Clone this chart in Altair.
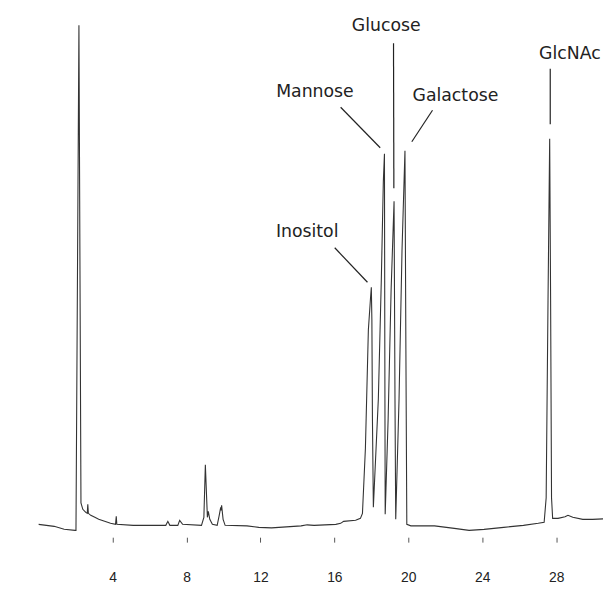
import altair as alt
import pandas as pd

# Chromatogram trace: retention time (min) and detector signal (% of full scale)
time_min = [0.00, 0.84, 1.38, 1.97, 2.02, 2.18, 2.29, 2.39, 2.55, 2.63, 2.66, 2.69,
            2.82, 3.04, 3.25, 3.57, 3.89, 4.16, 4.20, 4.23, 5.12, 6.88, 6.99, 7.10,
            7.53, 7.63, 7.79, 8.81, 8.94, 9.02, 9.13, 9.18, 9.26, 9.40, 9.66, 9.77,
            9.85, 9.87, 9.90, 9.98, 10.09, 11.27, 11.91, 12.60, 13.40, 14.20, 14.53,
            14.90, 16.08, 16.34, 16.50, 17.15, 17.41, 17.52, 17.68, 17.84, 17.95,
            18.00, 18.03, 18.06, 18.11, 18.38, 18.54, 18.65, 18.71, 18.73, 18.75,
            18.91, 19.07, 19.23, 19.28, 19.32, 19.50, 19.66, 19.82, 19.87, 19.92,
            20.14, 21.42, 22.49, 23.29, 24.10, 25.16, 26.23, 27.03, 27.35, 27.46,
            27.56, 27.65, 27.70, 27.75, 27.81, 28.10, 28.48, 28.64, 28.90, 29.44,
            29.97, 30.56]
signal = [0.2, -0.2, -0.8, -1.0, -1.0, 100.0, 4.5, 3.2, 2.6, 2.4, 4.2, 2.4,
          2.0, 1.6, 1.2, 0.8, 0.4, 0.2, 1.8, 0.2, 0.0, 0.0, 0.8, 0.0,
          0.0, 1.0, 0.2, 0.0, 1.6, 12.1, 1.6, 2.8, 1.2, 0.2, 0.0, 2.0,
          3.6, 3.0, 4.0, 1.2, 0.0, -0.1, -0.4, -0.5, -0.3, -0.1, 0.1,
          0.0, 0.2, 0.4, 0.8, 1.0, 1.4, 2.4, 15.4, 39.1, 45.1,
          47.6, 41.1, 21.3, 3.6, 25.3, 49.0, 68.8, 74.3, 35.2, 2.2,
          21.3, 47.0, 64.8, 25.3, 1.2, 25.3, 54.9, 74.9, 35.2, 0.2,
          -0.1, -0.1, -0.6, -1.0, -0.8, -0.4, 0.0, 0.4, 0.6, 5.5,
          45.0, 77.3, 45.0, 5.5, 1.4, 1.4, 1.7, 2.0, 1.6, 1.2,
          1.2, 1.3]

# Peak labels
label_text = ["Glucose", "Mannose", "Galactose", "Inositol", "GlcNAc"]
label_t = [18.81, 14.95, 22.55, 14.53, 28.74]
label_s = [99.8, 86.6, 85.8, 58.7, 94.3]

# Pointer lines from labels to peaks
ptr_t1 = [19.20, 16.34, 21.31, 16.02, 27.68]
ptr_s1 = [96.4, 83.6, 83.0, 55.5, 91.3]
ptr_t2 = [19.22, 18.48, 20.19, 17.79, 27.68]
ptr_s2 = [67.4, 75.5, 76.7, 48.6, 80.2]

tick_values = [4, 8, 12, 16, 20, 24, 28]

trace = pd.DataFrame({"t": time_min, "s": signal, "i": range(len(time_min))})
labels = pd.DataFrame({"t": label_t, "s": label_s, "label": label_text})
pointers = pd.DataFrame({"t": ptr_t1, "s": ptr_s1, "t2": ptr_t2, "s2": ptr_s2})

xscale = alt.Scale(domain=[0, 30], nice=False, zero=False)
yscale = alt.Scale(domain=[0, 100], nice=False, zero=False)

line = alt.Chart(trace).mark_line(color="#333333", strokeWidth=1.1).encode(
    x=alt.X("t:Q", scale=xscale,
            axis=alt.Axis(values=tick_values, title=None, domain=False, grid=False,
                          tickSize=5, tickColor="#555555", tickWidth=1, offset=12,
                          labelPadding=29, labelFontSize=14, labelColor="#222222",
                          labelFont="Liberation Sans")),
    y=alt.Y("s:Q", scale=yscale, axis=None),
    order="i:Q",
)

rules = alt.Chart(pointers).mark_rule(color="#222222", strokeWidth=1.2).encode(
    x=alt.X("t:Q", scale=xscale),
    y=alt.Y("s:Q", scale=yscale),
    x2="t2:Q",
    y2="s2:Q",
)

texts = alt.Chart(labels).mark_text(
    font="DejaVu Sans", fontSize=17.5, color="#222222", align="center", baseline="middle"
).encode(
    x=alt.X("t:Q", scale=xscale),
    y=alt.Y("s:Q", scale=yscale),
    text="label:N",
)

chart = alt.layer(line, rules, texts).properties(
    width=561, height=506,
    autosize=alt.AutoSizeParams(type="none"),
    padding={"left": 31, "top": 14, "right": 10, "bottom": 62},
    background="white",
).configure_view(strokeWidth=0)

chart.save("out.html", embed_options={"renderer": "svg", "actions": False})
